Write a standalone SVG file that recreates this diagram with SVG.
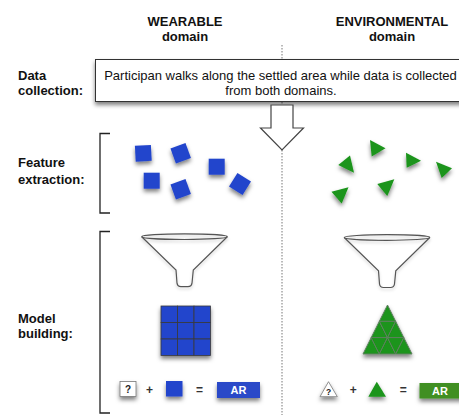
<svg xmlns="http://www.w3.org/2000/svg" xmlns:xlink="http://www.w3.org/1999/xlink" width="459" height="415" viewBox="0 0 459 415">
  <style>
    .hd { font-family: "Liberation Sans", Arial, Helvetica, sans-serif; font-size: 13px; font-weight: bold; fill: #111; text-anchor: middle; }
    .lbl { font-family: "Liberation Sans", Arial, Helvetica, sans-serif; font-size: 13px; font-weight: bold; fill: #111; }
    .body { font-family: "Liberation Sans", Arial, Helvetica, sans-serif; font-size: 13px; fill: #111; text-anchor: middle; }
    .op { font-family: "Liberation Sans", Arial, Helvetica, sans-serif; font-size: 12px; font-weight: bold; fill: #333; text-anchor: middle; }
    .ar { font-family: "Liberation Sans", Arial, Helvetica, sans-serif; font-size: 11px; font-weight: bold; fill: #fff; text-anchor: middle; }
    .q { font-family: "Liberation Sans", Arial, Helvetica, sans-serif; font-weight: bold; fill: #222; text-anchor: middle; }
    .bracket { fill: none; stroke: #222; stroke-width: 1.3; }
    .blue { fill: #2345cc; }
    .green { fill: #1a941a; }
    .funnel { fill: none; stroke: #555; stroke-width: 1.2; }
    .cell { fill: #2345cc; stroke: #3a3a3a; stroke-width: 0.8; }
    .tcell { fill: #1a941a; stroke: #5f7f5f; stroke-width: 1; stroke-linejoin: round; }
  </style>
  <defs>
    <filter id="shadow" x="-40%" y="-40%" width="180%" height="200%">
      <feDropShadow dx="0" dy="3" stdDeviation="2.2" flood-color="#000" flood-opacity="0.5"/>
    </filter>
    <filter id="shadowSoft" x="-20%" y="-20%" width="140%" height="160%">
      <feDropShadow dx="0" dy="2" stdDeviation="1.5" flood-color="#000" flood-opacity="0.2"/>
    </filter>
    <g id="funnelShape">
      <ellipse cx="0" cy="0" rx="42.8" ry="2.8"/>
      <path d="M-42.8,0 L-8.5,33.3 L-7.5,46.5 Q-7,50 -3.5,50 L3.5,50 Q7,50 7.5,46.5 L8.8,33.3 L42.8,0"/>
    </g>
    <rect id="sq" x="-8" y="-8" width="16" height="16"/>
  </defs>

  <!-- column headings -->
  <g id="heading-wearable">
    <text class="hd" x="185" y="26">WEARABLE</text>
    <text class="hd" x="185" y="41">domain</text>
  </g>
  <g id="heading-environmental">
    <text class="hd" x="392" y="26">ENVIRONMENTAL</text>
    <text class="hd" x="392" y="41">domain</text>
  </g>

  <!-- divider between the two domains -->
  <line id="divider" x1="282" y1="45" x2="282" y2="415" stroke="#777" stroke-width="1" stroke-dasharray="1.5 1.5"/>

  <!-- row labels -->
  <g id="label-data">
    <text class="lbl" x="18" y="80">Data</text>
    <text class="lbl" x="18" y="95">collection:</text>
  </g>
  <g id="label-feature">
    <text class="lbl" x="18" y="167">Feature</text>
    <text class="lbl" x="18" y="184">extraction:</text>
  </g>
  <g id="label-model">
    <text class="lbl" x="18" y="323">Model</text>
    <text class="lbl" x="18" y="338">building:</text>
  </g>

  <!-- brackets -->
  <g id="bracket-feature">
    <path class="bracket" d="M110,133.5 H100 V213 H110"/>
  </g>
  <g id="bracket-model">
    <path class="bracket" d="M110,231.5 H100 V413 H110"/>
  </g>

  <!-- data collection box -->
  <g id="data-box">
    <rect x="95.5" y="59.5" width="375" height="42" fill="#fff" stroke="#333" stroke-width="1" filter="url(#shadow)"/>
    <text class="body" x="280.5" y="79.5">Participan walks along the settled area while data is collected</text>
    <text class="body" x="281" y="95">from both domains.</text>
  </g>

  <!-- connectors -->
  <g id="connectors">
    <path d="M271,105 H293 V128 H303.5 L282,150 L260.5,128 H271 Z" fill="#fff" stroke="#444" stroke-width="1.2" stroke-linejoin="miter"/>
  </g>

  <!-- wearable features -->
  <g id="features-wearable" class="blue" filter="url(#shadow)">
    <use xlink:href="#sq" transform="translate(143.3,153.3) rotate(-3)"/>
    <use xlink:href="#sq" transform="translate(180.7,153.3) rotate(-20)"/>
    <use xlink:href="#sq" transform="translate(216.7,166.7)"/>
    <use xlink:href="#sq" transform="translate(151.7,180.7)"/>
    <use xlink:href="#sq" transform="translate(180.7,189.3) rotate(-20)"/>
    <use xlink:href="#sq" transform="translate(240,184) rotate(32)"/>
  </g>

  <!-- environmental features -->
  <g id="features-environmental" class="green" filter="url(#shadow)">
    <polygon points="370,140 385.5,148.3 371.7,156.5"/>
    <polygon points="338.3,165 350,155.5 354,172.7"/>
    <polygon points="406,152.7 421,160.7 406.7,167.8"/>
    <polygon points="436,161.7 452,168.3 441.7,178"/>
    <polygon points="377.3,184 394.3,179.3 387.3,196"/>
    <polygon points="331.5,191.7 348.5,187.3 341.7,203.5"/>
  </g>

  <!-- funnels -->
  <g id="funnel-wearable" class="funnel" filter="url(#shadowSoft)">
    <use xlink:href="#funnelShape" transform="translate(184.5,236.7)"/>
  </g>
  <g id="funnel-environmental" class="funnel" filter="url(#shadowSoft)">
    <use xlink:href="#funnelShape" transform="translate(387,237.5)"/>
  </g>

  <!-- wearable model: 3x3 grid -->
  <g id="model-wearable" filter="url(#shadow)">
    <rect class="cell" x="161" y="306" width="16.5" height="16.5"/>
    <rect class="cell" x="177.5" y="306" width="16.5" height="16.5"/>
    <rect class="cell" x="194" y="306" width="16.5" height="16.5"/>
    <rect class="cell" x="161" y="322.5" width="16.5" height="16.5"/>
    <rect class="cell" x="177.5" y="322.5" width="16.5" height="16.5"/>
    <rect class="cell" x="194" y="322.5" width="16.5" height="16.5"/>
    <rect class="cell" x="161" y="339" width="16.5" height="16.5"/>
    <rect class="cell" x="177.5" y="339" width="16.5" height="16.5"/>
    <rect class="cell" x="194" y="339" width="16.5" height="16.5"/>
  </g>

  <!-- environmental model: triangular pyramid -->
  <g id="model-environmental" filter="url(#shadow)">
    <polygon class="tcell" points="387.5,305 379.33,321.33 395.67,321.33"/>
    <polygon class="tcell" points="379.33,321.33 371.17,337.67 387.5,337.67"/>
    <polygon class="tcell" points="379.33,321.33 395.67,321.33 387.5,337.67"/>
    <polygon class="tcell" points="395.67,321.33 387.5,337.67 403.83,337.67"/>
    <polygon class="tcell" points="371.17,337.67 363,354 379.33,354"/>
    <polygon class="tcell" points="371.17,337.67 387.5,337.67 379.33,354"/>
    <polygon class="tcell" points="387.5,337.67 379.33,354 395.67,354"/>
    <polygon class="tcell" points="387.5,337.67 403.83,337.67 395.67,354"/>
    <polygon class="tcell" points="403.83,337.67 395.67,354 412,354"/>
  </g>

  <!-- wearable recognition equation -->
  <g id="equation-wearable">
    <rect x="120" y="381.5" width="16" height="15" fill="#fff" stroke="#777" stroke-width="0.8" filter="url(#shadow)"/>
    <text class="q" x="128" y="393" font-size="10">?</text>
    <text class="op" x="149.5" y="393.5">+</text>
    <rect class="blue" x="166" y="381" width="16.5" height="15.5" filter="url(#shadow)"/>
    <text class="op" x="199.5" y="393.5">=</text>
    <rect x="217" y="382" width="43" height="16" fill="#2a48c8" filter="url(#shadow)"/>
    <text class="ar" x="238.5" y="394">AR</text>
  </g>

  <!-- environmental recognition equation -->
  <g id="equation-environmental">
    <polygon points="320,396.7 328.5,381.7 337.3,396.7" fill="#fff" stroke="#777" stroke-width="0.8" stroke-linejoin="round" filter="url(#shadow)"/>
    <text class="q" x="328.7" y="395" font-size="8.5">?</text>
    <text class="op" x="353.3" y="393.5">+</text>
    <polygon class="green" points="368.3,396.7 376.8,381.7 386,396.7" filter="url(#shadow)"/>
    <text class="op" x="403.3" y="393.5">=</text>
    <rect x="419.5" y="383" width="50" height="15.5" fill="#3f8f24" filter="url(#shadow)"/>
    <text class="ar" x="440" y="395">AR</text>
  </g>
</svg>
